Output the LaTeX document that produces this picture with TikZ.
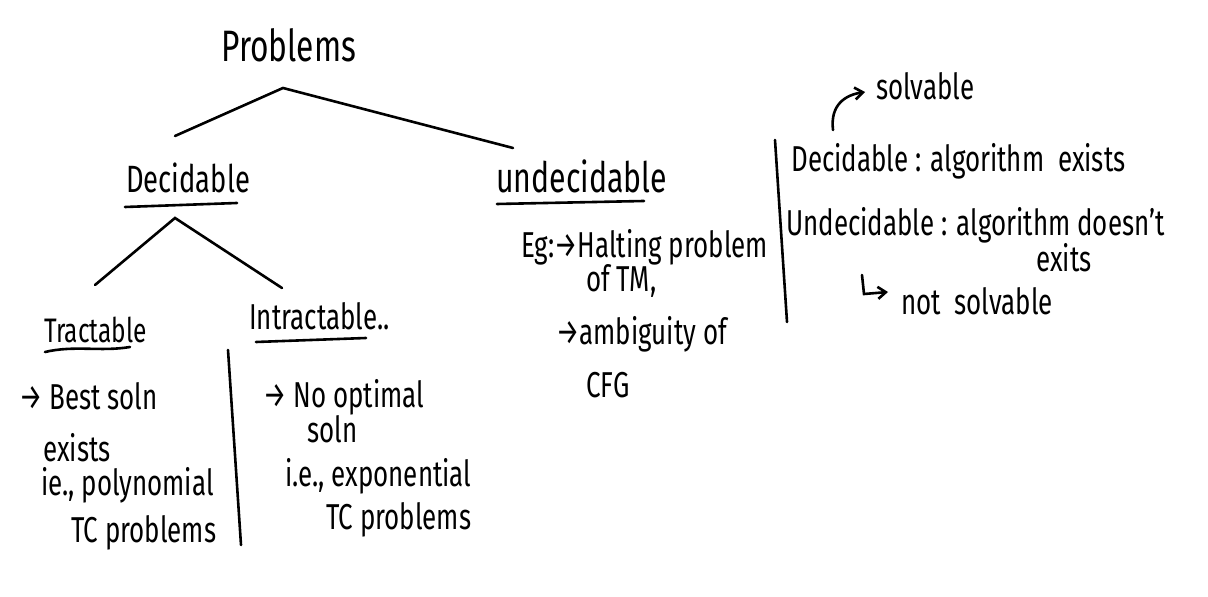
\documentclass[tikz,border=0pt]{standalone}
\usepackage{fontspec}
\setmainfont{Fira Sans}[FakeStretch=0.72]
\usetikzlibrary{arrows.meta}

\begin{document}
\begin{tikzpicture}[x=0.5pt,y=-0.5pt,line width=1.3pt,line cap=round,
    head/.style={anchor=base west,inner sep=0pt,font=\fontsize{19}{21}\selectfont},
    txt/.style={anchor=base west,inner sep=0pt,font=\fontsize{18}{20}\selectfont},
    pen/.style={line width=1.3pt},
    hook/.style={pen,-{Straight Barb[length=4pt,width=6pt]}}]
    \useasboundingbox (0,0) rectangle (1208,597);

    % Top of the tree
    \node[head,font=\fontsize{22}{24}\selectfont] (prob) at (220,62) {Problems};
    \coordinate (probfork) at (283,88);
    \coordinate (decend) at (175,136);
    \coordinate (undecend) at (513,148);
    \draw[pen] (decend) -- (probfork) -- (undecend);

    % Second level
    \node[head] (dec) at (125,193) {Decidable};
    \node[head,font=\fontsize{21}{23}\selectfont] (undec) at (495,193) {undecidable};
    \coordinate (decul1) at (125,207);
    \coordinate (decul2) at (237,203);
    \coordinate (undecul1) at (497,204);
    \coordinate (undecul2) at (644,201);
    \draw[pen] (decul1) -- (decul2);
    \draw[pen] (undecul1) -- (undecul2);

    % Decidable splits
    \coordinate (decfork) at (175,218);
    \coordinate (tractend) at (95,285);
    \coordinate (intractend) at (282,288);
    \draw[pen] (tractend) -- (decfork) -- (intractend);

    \node[head,font=\fontsize{17}{19}\selectfont] (tract) at (43,343) {Tractable};
    \node[head,font=\fontsize{18}{20}\selectfont] (intract) at (248,330) {Intractable..};
    \coordinate (tractul1) at (45,352);
    \coordinate (tractul2) at (130,347);
    \coordinate (intractul1) at (256,342);
    \coordinate (intractul2) at (366,338);
    \draw[pen] (tractul1) .. controls (75,345) and (100,352) .. (tractul2);
    \draw[pen] (intractul1) -- (intractul2);

    % Tractable column
    \node[txt] (best) at (18,410) {→ Best soln};
    \node[txt] (exists) at (42,462) {exists};
    \node[txt] (poly) at (40,495) {ie., polynomial};
    \node[txt] (tcpoly) at (70,543) {TC problems};
    \coordinate (sep1top) at (228,350);
    \coordinate (sep1bot) at (241,545);
    \draw[pen] (sep1top) -- (sep1bot);

    % Intractable column
    \node[txt] (noopt) at (262,408) {→ No optimal};
    \node[txt] (soln) at (306,443) {soln};
    \node[txt] (expo) at (284,487) {i.e., exponential};
    \node[txt] (tcexpo) at (325,530) {TC problems};

    % Examples of undecidable
    \node[txt] (eg) at (520,258) {Eg:→Halting problem};
    \node[txt] (tm) at (585,292) {of TM,};
    \node[txt] (amb) at (555,345) {→ambiguity of};
    \node[txt] (cfg) at (585,398) {CFG};

    % Definitions on the right
    \coordinate (sep2top) at (775,140);
    \coordinate (sep2bot) at (787,322);
    \draw[pen] (sep2top) -- (sep2bot);
    \node[txt] (solv) at (875,100) {solvable};
    \node[txt] (defdec) at (790,172) {Decidable : algorithm \ exists};
    \node[txt] (defundec) at (785,236) {Undecidable : algorithm doesn't};
    \node[txt] (exits) at (1035,272) {exits};
    \node[txt] (notsolv) at (900,315) {not \ solvable};
    \coordinate (solvfrom) at (833,130);
    \coordinate (solvto) at (865,92);
    \draw[hook] (solvfrom) .. controls (830,105) and (845,95) .. (solvto);
    \coordinate (notfrom) at (862,275);
    \coordinate (notto) at (888,292);
    \draw[hook] (notfrom) -- (864,294) -- (notto);
\end{tikzpicture}
\end{document}
